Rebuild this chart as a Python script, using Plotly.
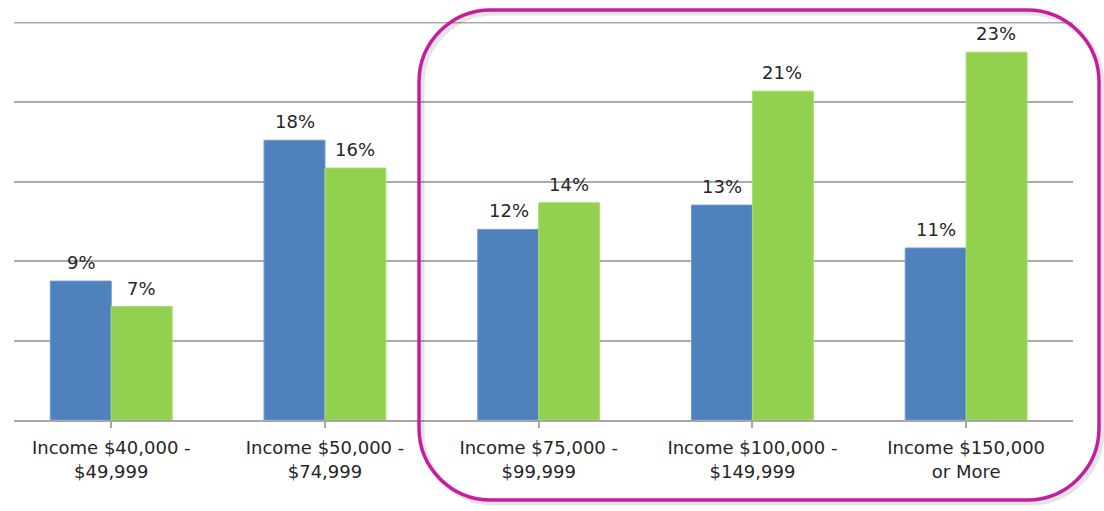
import plotly.graph_objects as go

categories = ["Income $40,000 -<br>$49,999", "Income $50,000 -<br>$74,999",
              "Income $75,000 -<br>$99,999", "Income $100,000 -<br>$149,999",
              "Income $150,000<br>or More"]
series_blue = [8.74, 17.6, 11.99, 13.52, 10.82]
series_green = [7.14, 15.85, 13.67, 20.69, 23.14]
labels_blue = ["9%", "18%", "12%", "13%", "11%"]
labels_green = ["7%", "16%", "14%", "21%", "23%"]
grid_values = [5, 10, 15, 20, 25]

W, H = 1104, 511
ML, MR, MT, MB = 14, 31, 22, 91
PW, PH = W - ML - MR, H - MT - MB

FONT = "DejaVu Sans"
TXT = "#262626"
GRID = "#ABABAB"

xs = list(range(len(categories)))
fig = go.Figure()
fig.add_bar(x=xs, y=series_blue,
            marker=dict(color="#4F81BD", line=dict(color="#6D98CC", width=1)))
fig.add_bar(x=xs, y=series_green,
            marker=dict(color="#92D050", line=dict(color="#A6DC6C", width=1)))

annotations = []
for i in xs:
    annotations.append(dict(x=i, y=series_blue[i], xref="x", yref="y",
                            text=labels_blue[i], showarrow=False,
                            yanchor="bottom", xshift=-30, yshift=6,
                            font=dict(family=FONT, size=18, color=TXT)))
    annotations.append(dict(x=i, y=series_green[i], xref="x", yref="y",
                            text=labels_green[i], showarrow=False,
                            yanchor="bottom", xshift=30, yshift=6,
                            font=dict(family=FONT, size=18, color=TXT)))


def px_x(p):
    return (p - ML) / PW


def px_y(p):
    return (H - MB - p) / PH


def rounded_rect(x0, y0, x1, y1, r):
    k = 0.5523 * r
    pts = []
    pts.append(f"M {px_x(x0 + r)},{px_y(y0)}")
    pts.append(f"L {px_x(x1 - r)},{px_y(y0)}")
    pts.append(f"C {px_x(x1 - r + k)},{px_y(y0)} {px_x(x1)},{px_y(y0 + r - k)} {px_x(x1)},{px_y(y0 + r)}")
    pts.append(f"L {px_x(x1)},{px_y(y1 - r)}")
    pts.append(f"C {px_x(x1)},{px_y(y1 - r + k)} {px_x(x1 - r + k)},{px_y(y1)} {px_x(x1 - r)},{px_y(y1)}")
    pts.append(f"L {px_x(x0 + r)},{px_y(y1)}")
    pts.append(f"C {px_x(x0 + r - k)},{px_y(y1)} {px_x(x0)},{px_y(y1 - r + k)} {px_x(x0)},{px_y(y1 - r)}")
    pts.append(f"L {px_x(x0)},{px_y(y0 + r)}")
    pts.append(f"C {px_x(x0)},{px_y(y0 + r - k)} {px_x(x0 + r - k)},{px_y(y0)} {px_x(x0 + r)},{px_y(y0)}")
    pts.append("Z")
    return " ".join(pts)


shapes = [
    dict(type="line", xref="paper", yref="y", x0=0, x1=1,
         y0=grid_values[-1], y1=grid_values[-1], layer="below",
         line=dict(color=GRID, width=1.5)),
    dict(type="path", xref="paper", yref="paper", layer="above",
         path=rounded_rect(422, 13, 1102, 503, 72),
         line=dict(color="rgba(0,0,0,0.10)", width=5)),
    dict(type="path", xref="paper", yref="paper", layer="above",
         path=rounded_rect(419, 10, 1099, 500, 72),
         line=dict(color="#C71C9E", width=3.5)),
]

fig.update_layout(
    width=W, height=H,
    margin=dict(l=ML, r=MR, t=MT, b=MB),
    paper_bgcolor="white", plot_bgcolor="white",
    barmode="group", bargap=0.43, bargroupgap=0,
    showlegend=False,
    shapes=shapes,
    annotations=annotations,
    font=dict(family=FONT, color=TXT),
    xaxis=dict(tickmode="array", tickvals=xs,
               ticktext=categories, range=[-0.455, 4.5],
               tickfont=dict(family=FONT, size=18, color=TXT),
               ticklabelstandoff=5,
               showline=True, linecolor="#A6A6A6", linewidth=1.5,
               ticks="outside", ticklen=6, tickcolor="#A6A6A6", tickwidth=1.5,
               tickson="boundaries", showgrid=False, zeroline=False),
    yaxis=dict(range=[0, 25.04], tickmode="array", tickvals=grid_values,
               showgrid=True, gridcolor=GRID,
               gridwidth=1.5, showticklabels=False, zeroline=False,
               showline=False, ticks=""),
)

fig.write_html("out.html")
